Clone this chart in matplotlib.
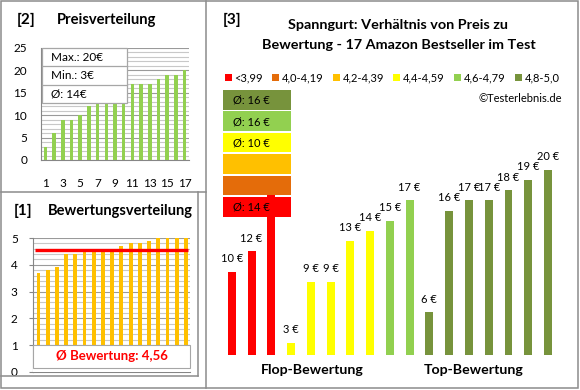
import matplotlib
matplotlib.use("Agg")
import matplotlib.pyplot as plt
from matplotlib.patches import Rectangle
from matplotlib.ticker import MultipleLocator

plt.rcParams['font.family'] = ['Lato', 'DejaVu Sans']

# ---------------- data ----------------
item_prices = [10, 12, 19, 3, 9, 9, 13, 14, 15, 17, 6, 16, 17, 17, 18, 19, 20]
item_ratings = [3.7, 3.8, 3.9, 4.4, 4.4, 4.5, 4.5, 4.5, 4.6, 4.7,
                4.8, 4.8, 4.9, 5.0, 5.0, 5.0, 5.0]
bin_labels = ["<3,99", "4,0-4,19", "4,2-4,39", "4,4-4,59", "4,6-4,79", "4,8-5,0"]
bin_edges = [0, 4.0, 4.2, 4.4, 4.6, 4.8, 5.01]
bin_colors = ["#FF0000", "#E46C0A", "#FFC000", "#FFFF00", "#92D050", "#77933C"]
group_labels = ["Flop-Bewertung", "Top-Bewertung"]
title_lines = ["Spanngurt: Verhältnis von Preis zu",
               "Bewertung - 17 Amazon Bestseller im Test"]

W, H = 580, 390
fig = plt.figure(figsize=(W / 100, H / 100), dpi=100)
fig.patch.set_facecolor("white")


def ax_px(x0, y0, x1, y1, **kw):
    return fig.add_axes([x0 / W, 1 - y1 / H, (x1 - x0) / W, (y1 - y0) / H], **kw)


def bin_of(r):
    for k in range(len(bin_edges) - 1):
        if bin_edges[k] <= r < bin_edges[k + 1]:
            return k
    return len(bin_edges) - 2


GRID_MAJ = "#9A9A9A"
GRID_MIN = "#C8C8C8"
AXC = "#868686"

# ---------------- [2] Preisverteilung ----------------
prices_sorted = sorted(item_prices)
n = len(prices_sorted)
xs = list(range(1, n + 1))
ax2 = ax_px(41, 48, 189, 160)
ax2.bar(xs, prices_sorted, width=0.4, color="#92D050", zorder=3)
ax2.set_xlim(0.5, n + 0.5)
ax2.set_ylim(0, 25)
ax2.yaxis.set_major_locator(MultipleLocator(5))
ax2.yaxis.set_minor_locator(MultipleLocator(1))
ax2.set_xticks(range(1, n + 1, 2))
ax2.grid(axis="y", which="major", color=GRID_MAJ, lw=0.8, zorder=0)
ax2.grid(axis="y", which="minor", color=GRID_MIN, lw=0.8, zorder=0)
for s in ["top", "right"]:
    ax2.spines[s].set_visible(False)
ax2.spines["left"].set_color(AXC)
ax2.spines["bottom"].set_color(AXC)
ax2.tick_params(axis="y", which="both", length=0, pad=10, labelsize=8.5)
ax2.tick_params(axis="x", length=0, pad=13, labelsize=8.5)

# ---------------- [1] Bewertungsverteilung ----------------
ratings_sorted = sorted(item_ratings)
mean_rating = sum(item_ratings) / len(item_ratings)
ax1 = ax_px(33, 238, 190, 372)
ax1.bar(xs, ratings_sorted, width=0.42, color="#FFC000", zorder=3)
ax1.set_xlim(0.4, n + 0.45)
ax1.set_ylim(0, 5)
ax1.yaxis.set_major_locator(MultipleLocator(1))
ax1.yaxis.set_minor_locator(MultipleLocator(0.2))
ax1.set_xticks([])
ax1.grid(axis="y", which="major", color=GRID_MAJ, lw=0.8, zorder=0)
ax1.grid(axis="y", which="minor", color=GRID_MIN, lw=0.8, zorder=0)
for s in ["top", "right"]:
    ax1.spines[s].set_visible(False)
ax1.spines["left"].set_color(AXC)
ax1.spines["bottom"].set_color(AXC)
ax1.tick_params(axis="y", which="major", length=3, color=AXC, pad=8, labelsize=8.5)
ax1.tick_params(axis="y", which="minor", length=0)
ax1.plot([0.6, n + 0.2], [mean_rating, mean_rating], color="#FF0000", lw=2.4, zorder=4,
         solid_capstyle="butt")
# blank out the bars below the label box
ax1.add_patch(Rectangle((0.45, 0.012), n - 0.05, 0.2, facecolor="white",
                        edgecolor="none", zorder=4.5))
ax1.add_patch(Rectangle((0.4, 0.15), n + 0.05, 0.85, facecolor="white",
                        edgecolor="#A6A6A6", lw=0.8, zorder=5, clip_on=False))
ax1.text((0.4 + n + 0.45) / 2, 0.58,
         "Ø Bewertung: " + f"{mean_rating:.2f}".replace(".", ","),
         color="#FF0000", fontsize=9.5, fontweight="bold", ha="center", va="center", zorder=6)

# ---------------- [3] Preis zu Bewertung ----------------
ax3 = ax_px(215, 90, 565, 355)
bar_colors = [bin_colors[bin_of(r)] for r in item_ratings]
ax3.bar(xs, item_prices, width=0.4, color=bar_colors, zorder=3)
ax3.set_xlim(0.15, n + 0.86)
ax3.set_ylim(1.8, 27.85)
ax3.axis("off")
for x, p in zip(xs, item_prices):
    ax3.annotate(f"{p} €", (x, p), xytext=(0, 9.5), textcoords="offset points",
                 ha="center", va="center", fontsize=8, zorder=4)

# ---------------- overlay (frames, titles, boxes) ----------------
ov = fig.add_axes([0, 0, 1, 1], zorder=10)
ov.set_xlim(0, W)
ov.set_ylim(H, 0)
ov.axis("off")
ov.patch.set_alpha(0)

FR = "#8C8C8C"
ov.add_patch(Rectangle((1, 1), 577, 387, facecolor="none", edgecolor=FR, lw=1.1))
ov.plot([205.5, 205.5], [1, 388], color=FR, lw=1.1)
ov.plot([1, 205.5], [192, 192], color=FR, lw=1.1)
ov.plot([1, 198], [376, 376], color=FR, lw=1.1)
ov.plot([198, 198], [192, 376], color=FR, lw=1.1)

# titles
ov.text(17, 20, "[2]", fontsize=11, fontweight="bold", va="center", ha="left")
ov.text(57, 20, "Preisverteilung", fontsize=10.6, fontweight="bold", va="center", ha="left")
ov.text(14, 211, "[1]", fontsize=11, fontweight="bold", va="center", ha="left")
ov.text(48, 211, "Bewertungsverteilung", fontsize=10.5, fontweight="bold", va="center", ha="left")
ov.text(223, 20, "[3]", fontsize=11, fontweight="bold", va="center", ha="left")
ov.text(398, 25, title_lines[0], fontsize=10.4, fontweight="bold", va="center", ha="center")
ov.text(399, 45, title_lines[1], fontsize=10.4, fontweight="bold", va="center", ha="center")

# price stats box
stats = [f"Max.: {max(item_prices)}€", f"Min.: {min(item_prices)}€",
         f"Ø: {round(sum(item_prices) / len(item_prices))}€"]
ov.add_patch(Rectangle((42, 48), 85, 55, facecolor="white", edgecolor="#A6A6A6", lw=0.9))
row_h = 55 / 3
for k, s in enumerate(stats):
    if k > 0:
        ov.plot([42, 127], [48 + k * row_h, 48 + k * row_h], color="#A6A6A6", lw=0.9)
    ov.text(51, 48 + (k + 0.5) * row_h, s, fontsize=8.5, va="center", ha="left")

# legend
leg_x = [225, 272, 333, 393, 454, 515]
for lx, lab, col in zip(leg_x, bin_labels, bin_colors):
    ov.add_patch(Rectangle((lx, 74), 7, 7, facecolor=col, edgecolor="none"))
    ov.text(lx + 9.5, 77.5, lab, fontsize=8, va="center", ha="left")
ov.text(562, 98, "©Testerlebnis.de", fontsize=8, va="center", ha="right")

# average boxes per rating bin (top: best)
box_top, box_h, box_step = 90, 19.5, 21.4
for j, k in enumerate(reversed(range(len(bin_labels)))):
    y0 = box_top + j * box_step
    ov.add_patch(Rectangle((223, y0), 68, box_h, facecolor=bin_colors[k], edgecolor="none"))
    vals = [p for p, r in zip(item_prices, item_ratings) if bin_of(r) == k]
    if vals:
        ov.text(233, y0 + box_h / 2 + 0.5, f"Ø: {round(sum(vals) / len(vals))} €",
                fontsize=8, va="center", ha="left")

# group labels
ov.text(312, 370, group_labels[0], fontsize=10.2, fontweight="bold", va="center", ha="center")
ov.text(474, 370, group_labels[1], fontsize=10.2, fontweight="bold", va="center", ha="center")

fig.savefig("out.png", dpi=100, facecolor="white")
